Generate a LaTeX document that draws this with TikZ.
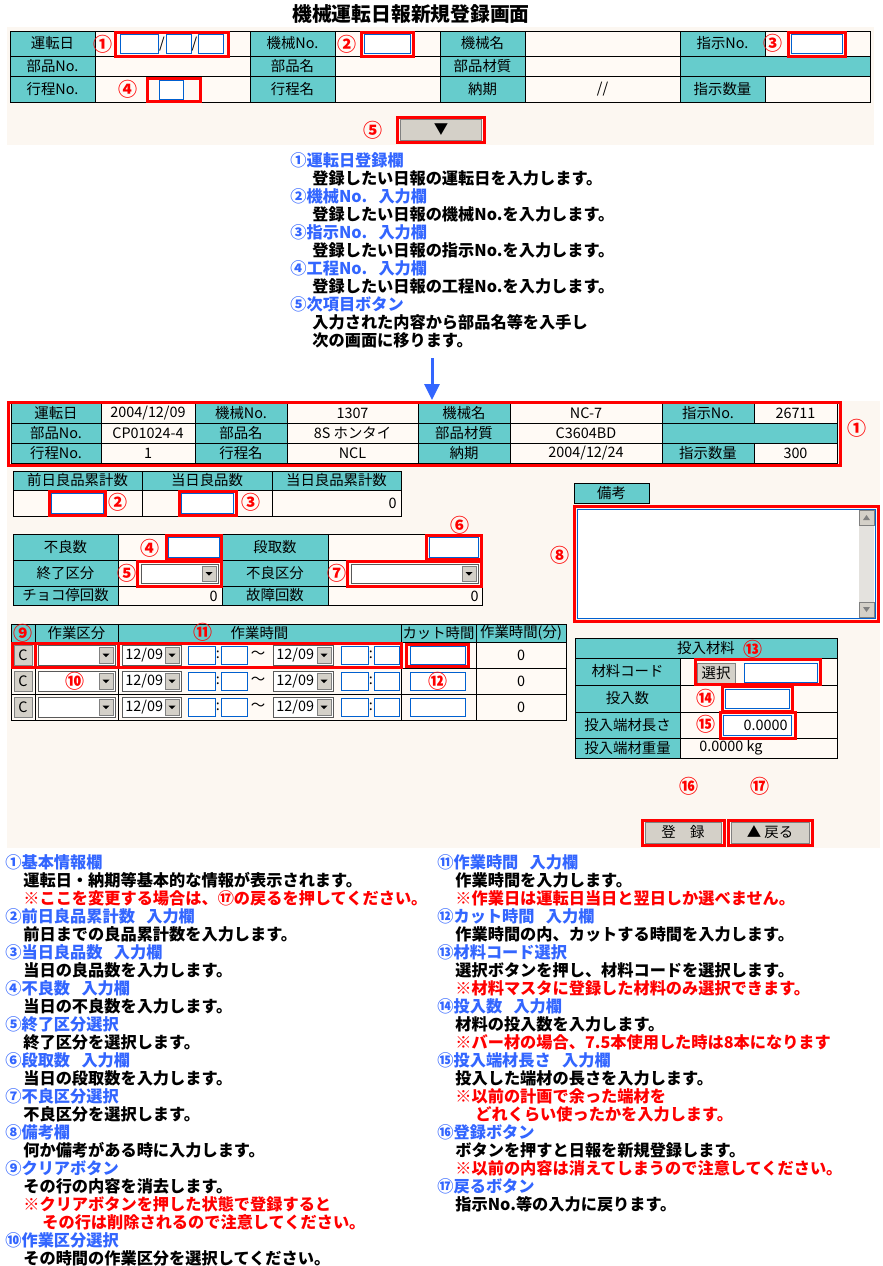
\documentclass[tikz,border=0pt]{standalone}
\usepackage{fontspec}
\setmainfont{Noto Sans CJK JP}
\usetikzlibrary{arrows.meta}
\definecolor{tealc}{HTML}{66CCCC}
\definecolor{cellw}{HTML}{FFFAF5}
\definecolor{panelc}{HTML}{FCF7F1}
\definecolor{headc}{HTML}{3366FF}
\definecolor{redc}{HTML}{FF0000}
\definecolor{inc}{HTML}{0060D0}
\definecolor{btnc}{HTML}{D4D0C8}
\definecolor{trackc}{HTML}{E4E2DE}
\tikzstyle{tcell}=[draw=black, fill=tealc, line width=0.5pt]
\tikzstyle{wcell}=[draw=black, fill=cellw, line width=0.5pt]
\tikzstyle{redbox}=[draw=redc, line width=1.5pt]
\tikzstyle{inbox}=[draw=inc, fill=white, line width=0.5pt]
\tikzstyle{btn}=[draw=gray, fill=btnc, line width=0.5pt]
\tikzstyle{dropbox}=[draw=gray!70!black, fill=white, line width=0.5pt]
\tikzstyle{ctxt}=[inner sep=0, font=\fontsize{7.2}{7}\selectfont]
\tikzstyle{num}=[inner sep=0, text=redc, font=\bfseries\fontsize{9.5}{9}\selectfont]
\tikzstyle{head}=[anchor=west, inner sep=0, text=headc, font=\bfseries\fontsize{8.1}{8}\selectfont]
\tikzstyle{body}=[anchor=west, inner sep=0, font=\bfseries\fontsize{8.1}{8}\selectfont]
\tikzstyle{redline}=[body, text=redc]
\newcommand{\gap}{\hspace{0.7em}}
\newcommand{\mkcell}[7]{%
  \draw[#1] (#3,#4) rectangle (#5,#6);
  \node[ctxt] (#2) at ({(#3+#5)/2},{(#4+#6)/2}) {#7};}
\newcommand{\mkdrop}[6]{%
  \draw[dropbox] (#2,#3) rectangle (#4,#5);
  \draw[btn] ({#4-16},{#3+2}) rectangle ({#4-2},{#5-2});
  \fill ({#4-12.5},{(#3+#5)/2-1.5}) -- ({#4-5.5},{(#3+#5)/2-1.5}) -- ({#4-9},{(#3+#5)/2+2}) -- cycle;
  \node[ctxt, anchor=west] (#1) at ({#2+3},{(#3+#5)/2}) {#6};}
\newcommand{\workrow}[2]{%
  \mkcell{wcell}{w#1a}{11}{#2}{35}{#2+26}{}
  \mkcell{wcell}{w#1b}{35}{#2}{118}{#2+26}{}
  \mkcell{wcell}{w#1t}{118}{#2}{401}{#2+26}{}
  \mkcell{wcell}{w#1k}{401}{#2}{476}{#2+26}{}
  \mkcell{wcell}{w#1m}{476}{#2}{566}{#2+26}{0}
  \draw[btn] (14,#2+3) rectangle (32,#2+23);
  \node[ctxt] (w#1c) at (23,#2+13) {C};
  \mkdrop{w#1d}{38}{#2+3}{115}{#2+23}{}
  \mkdrop{w#1s}{122}{#2+3}{181}{#2+23}{12/09}
  \draw[inbox] (188,#2+4) rectangle (215,#2+22);
  \node[ctxt] (w#1p) at (218,#2+13) {:};
  \draw[inbox] (221,#2+4) rectangle (247,#2+22);
  \node[ctxt] (w#1w) at (258,#2+13) {～};
  \mkdrop{w#1e}{273}{#2+3}{333}{#2+23}{12/09}
  \draw[inbox] (341,#2+4) rectangle (368,#2+22);
  \node[ctxt] (w#1q) at (371,#2+13) {:};
  \draw[inbox] (374,#2+4) rectangle (399,#2+22);
  \draw[inbox] (410,#2+4) rectangle (465,#2+22);}

\begin{document}
\begin{tikzpicture}[x=0.5pt, y=-0.5pt]
\useasboundingbox (0,0) rectangle (883,1266);
\fill[white] (0,0) rectangle (883,1266);
\node[inner sep=0, font=\bfseries\fontsize{9.9}{10}\selectfont] (title) at (411,14) {機械運転日報新規登録画面};
\fill[panelc] (7,27) rectangle (874,145);
\mkcell{tcell}{a11}{10}{31}{95}{56}{運転日}
\mkcell{wcell}{a12}{95}{31}{250}{56}{}
\mkcell{tcell}{a13}{250}{31}{335}{56}{機械No.}
\mkcell{wcell}{a14}{335}{31}{440}{56}{}
\mkcell{tcell}{a15}{440}{31}{525}{56}{機械名}
\mkcell{wcell}{a16}{525}{31}{680}{56}{}
\mkcell{tcell}{a17}{680}{31}{765}{56}{指示No.}
\mkcell{wcell}{a18}{765}{31}{870}{56}{}
\mkcell{tcell}{a21}{10}{56}{95}{76}{部品No.}
\mkcell{wcell}{a22}{95}{56}{250}{76}{}
\mkcell{tcell}{a23}{250}{56}{335}{76}{部品名}
\mkcell{wcell}{a24}{335}{56}{440}{76}{}
\mkcell{tcell}{a25}{440}{56}{525}{76}{部品材質}
\mkcell{wcell}{a26}{525}{56}{680}{76}{}
\mkcell{tcell}{a27}{680}{56}{870}{76}{}
\mkcell{tcell}{a31}{10}{76}{95}{102}{行程No.}
\mkcell{wcell}{a32}{95}{76}{250}{102}{}
\mkcell{tcell}{a33}{250}{76}{335}{102}{行程名}
\mkcell{wcell}{a34}{335}{76}{440}{102}{}
\mkcell{tcell}{a35}{440}{76}{525}{102}{納期}
\mkcell{wcell}{a36}{525}{76}{680}{102}{//}
\mkcell{tcell}{a37}{680}{76}{765}{102}{指示数量}
\mkcell{wcell}{a38}{765}{76}{870}{102}{}
\draw[redbox] (115,32) rectangle (228,56);
\draw[inbox] (120,34) rectangle (158,53);
\node[ctxt] (sl1) at (162,44) {/};
\draw[inbox] (166,34) rectangle (191,53);
\node[ctxt] (sl2) at (194.5,44) {/};
\draw[inbox] (198,34) rectangle (223,53);
\node[num] (n1) at (103,44) {①};
\draw[redbox] (361,32) rectangle (413,56);
\draw[inbox] (364,34) rectangle (410,53);
\node[num] (n2) at (347,44) {②};
\draw[redbox] (788,32) rectangle (845,56);
\draw[inbox] (791,34) rectangle (842,53);
\node[num] (n3) at (773,43) {③};
\draw[redbox] (147,78) rectangle (200,101);
\draw[inbox] (159,80) rectangle (183,99);
\node[num] (n4) at (128,89) {④};
\draw[redbox] (397,117) rectangle (484,142);
\draw[btn] (400,119) rectangle (481,140);
\node[ctxt] (nextbtn) at (441,129.5) {▼};
\node[num] (n5) at (373,130) {⑤};
\node[head] (d1) at (290,160) {①運転日登録欄};
\node[body] (d2) at (312,178) {登録したい日報の運転日を入力します。};
\node[head] (d3) at (290,196) {②機械No.\gap 入力欄};
\node[body] (d4) at (312,214) {登録したい日報の機械No.を入力します。};
\node[head] (d5) at (290,232) {③指示No.\gap 入力欄};
\node[body] (d6) at (312,250) {登録したい日報の指示No.を入力します。};
\node[head] (d7) at (290,268) {④工程No.\gap 入力欄};
\node[body] (d8) at (312,286) {登録したい日報の工程No.を入力します。};
\node[head] (d9) at (290,304) {⑤次項目ボタン};
\node[body] (d10) at (312,322) {入力された内容から部品名等を入手し};
\node[body] (d11) at (312,340) {次の画面に移ります。};
\coordinate (arrtop) at (432,358);
\coordinate (arrbot) at (432,400);
\draw[headc, line width=1.5pt, -{Triangle[length=8pt,width=7.5pt]}] (arrtop) -- (arrbot);
\fill[panelc] (7,401) rectangle (880,848);
\mkcell{tcell}{b11}{11}{403}{101}{423}{運転日}
\mkcell{wcell}{b12}{101}{403}{195}{423}{2004/12/09}
\mkcell{tcell}{b13}{195}{403}{287}{423}{機械No.}
\mkcell{wcell}{b14}{287}{403}{418}{423}{1307}
\mkcell{tcell}{b15}{418}{403}{510}{423}{機械名}
\mkcell{wcell}{b16}{510}{403}{662}{423}{NC-7}
\mkcell{tcell}{b17}{662}{403}{754}{423}{指示No.}
\mkcell{wcell}{b18}{754}{403}{837}{423}{26711}
\mkcell{tcell}{b21}{11}{423}{101}{443}{部品No.}
\mkcell{wcell}{b22}{101}{423}{195}{443}{CP01024-4}
\mkcell{tcell}{b23}{195}{423}{287}{443}{部品名}
\mkcell{wcell}{b24}{287}{423}{418}{443}{8S ホンタイ}
\mkcell{tcell}{b25}{418}{423}{510}{443}{部品材質}
\mkcell{wcell}{b26}{510}{423}{662}{443}{C3604BD}
\mkcell{tcell}{b27}{662}{423}{837}{443}{}
\mkcell{tcell}{b31}{11}{443}{101}{463}{行程No.}
\mkcell{wcell}{b32}{101}{443}{195}{463}{1}
\mkcell{tcell}{b33}{195}{443}{287}{463}{行程名}
\mkcell{wcell}{b34}{287}{443}{418}{463}{NCL}
\mkcell{tcell}{b35}{418}{443}{510}{463}{納期}
\mkcell{wcell}{b36}{510}{443}{662}{463}{2004/12/24}
\mkcell{tcell}{b37}{662}{443}{754}{463}{指示数量}
\mkcell{wcell}{b38}{754}{443}{837}{463}{300}
\draw[redbox] (8.5,402.5) rectangle (840,465.5);
\node[num] (m1) at (857,428) {①};
\mkcell{tcell}{c11}{13}{471}{142}{490}{前日良品累計数}
\mkcell{tcell}{c12}{142}{471}{272}{490}{当日良品数}
\mkcell{tcell}{c13}{272}{471}{401}{490}{当日良品累計数}
\mkcell{wcell}{c21}{13}{490}{142}{516}{}
\mkcell{wcell}{c22}{142}{490}{272}{516}{}
\mkcell{wcell}{c23}{272}{490}{401}{516}{}
\node[ctxt, anchor=east] (c23v) at (397,503) {0};
\draw[redbox] (49,491) rectangle (105,515);
\draw[inbox] (51,493) rectangle (103,513);
\node[num] (m2) at (118,502) {②};
\draw[redbox] (179,491) rectangle (236,515);
\draw[inbox] (181,493) rectangle (233,513);
\node[num] (m3) at (251,502) {③};
\mkcell{tcell}{rem}{574}{483}{649}{503}{備考}
\draw[redbox] (574,506) rectangle (878,621);
\draw[inbox] (577,509) rectangle (875,618);
\fill[trackc] (859,510) rectangle (874,617);
\draw[btn] (859,510) rectangle (874,525);
\fill[gray] (863,520) -- (870,520) -- (866.5,515) -- cycle;
\draw[btn] (859,602) rectangle (874,617);
\fill[gray] (863,607) -- (870,607) -- (866.5,612) -- cycle;
\node[num] (m8) at (560,555) {⑧};
\mkcell{tcell}{g11}{13}{534}{118}{560}{不良数}
\mkcell{wcell}{g12}{118}{534}{222}{560}{}
\mkcell{tcell}{g13}{222}{534}{328}{560}{段取数}
\mkcell{wcell}{g14}{328}{534}{482}{560}{}
\mkcell{tcell}{g21}{13}{560}{118}{586}{終了区分}
\mkcell{wcell}{g22}{118}{560}{222}{586}{}
\mkcell{tcell}{g23}{222}{560}{328}{586}{不良区分}
\mkcell{wcell}{g24}{328}{560}{482}{586}{}
\mkcell{tcell}{g31}{13}{586}{118}{605}{チョコ停回数}
\mkcell{wcell}{g32}{118}{586}{222}{605}{}
\mkcell{tcell}{g33}{222}{586}{328}{605}{故障回数}
\mkcell{wcell}{g34}{328}{586}{482}{605}{}
\node[ctxt, anchor=east] (g32v) at (218,596) {0};
\node[ctxt, anchor=east] (g34v) at (479,596) {0};
\draw[redbox] (166,535) rectangle (221,559);
\draw[inbox] (168,537) rectangle (219,557);
\node[num] (m4) at (150,548) {④};
\draw[redbox] (426,535) rectangle (481,559);
\draw[inbox] (429,537) rectangle (478,557);
\node[num] (m6) at (460,525) {⑥};
\draw[redbox] (137,561) rectangle (221,586);
\mkdrop{g22d}{141}{564}{218}{583}{}
\node[num] (m5) at (127,573) {⑤};
\draw[redbox] (347,561) rectangle (481,586);
\mkdrop{g24d}{351}{564}{478}{583}{}
\node[num] (m7) at (337,573) {⑦};
\mkcell{tcell}{e1}{11}{624}{35}{642}{}
\mkcell{tcell}{e2}{35}{624}{118}{642}{作業区分}
\mkcell{tcell}{e3}{118}{624}{401}{642}{作業時間}
\mkcell{tcell}{e4}{401}{624}{476}{642}{カット時間}
\mkcell{tcell}{e5}{476}{624}{566}{642}{作業時間(分)}
\node[num] (m9) at (23,633) {⑨};
\node[num] (m11) at (203,632) {⑪};
\workrow{1}{642}
\workrow{2}{668}
\workrow{3}{694}
\draw[redbox] (12,643) rectangle (35,667);
\draw[redbox] (35,643) rectangle (118,667);
\draw[redbox] (118,643) rectangle (401,667);
\draw[redbox] (406,644) rectangle (468,666);
\node[num] (m10) at (75,681) {⑩};
\node[num] (m12) at (438,681) {⑫};
\mkcell{tcell}{f0}{575}{638}{837}{658}{投入材料}
\mkcell{tcell}{f11}{575}{658}{680}{685}{材料コード}
\mkcell{wcell}{f12}{680}{658}{837}{685}{}
\mkcell{tcell}{f21}{575}{685}{680}{712}{投入数}
\mkcell{wcell}{f22}{680}{685}{837}{712}{}
\mkcell{tcell}{f31}{575}{712}{680}{738}{投入端材長さ}
\mkcell{wcell}{f32}{680}{712}{837}{738}{}
\mkcell{tcell}{f41}{575}{738}{680}{758}{投入端材重量}
\mkcell{wcell}{f42}{680}{738}{837}{758}{}
\node[ctxt, anchor=west] (f42v) at (699,748) {0.0000 kg};
\node[num] (m13) at (753,649) {⑬};
\draw[btn] (697,663) rectangle (735,683);
\node[ctxt] (selbtn) at (716,673) {選択};
\draw[inbox] (744,663) rectangle (817,682);
\draw[redbox] (695,659) rectangle (820,684);
\draw[redbox] (722,686) rectangle (792,711);
\draw[inbox] (725,689) rectangle (789,708);
\node[num] (m14) at (706,698) {⑭};
\draw[redbox] (720,712) rectangle (795,738);
\draw[inbox] (723,715) rectangle (791,735);
\node[ctxt, anchor=east] (f32v) at (788,725) {0.0000};
\node[num] (m15) at (706,724) {⑮};
\node[num] (m16) at (689,786) {⑯};
\node[num] (m17) at (760,786) {⑰};
\draw[redbox] (642,820) rectangle (724,845);
\draw[btn] (645,822) rectangle (721,843);
\node[ctxt] (regbtn) at (683,832.5) {登　録};
\draw[redbox] (728,820) rectangle (812,845);
\draw[btn] (731,822) rectangle (809,843);
\node[ctxt] (backbtn) at (770,832.5) {▲ 戻る};
\node[head] (l1) at (5,862) {①基本情報欄};
\node[body] (l2) at (23,880) {運転日・納期等基本的な情報が表示されます。};
\node[redline] (l3) at (23,898) {※ここを変更する場合は、⑰の戻るを押してください。};
\node[head] (l4) at (5,916) {②前日良品累計数\gap 入力欄};
\node[body] (l5) at (23,934) {前日までの良品累計数を入力します。};
\node[head] (l6) at (5,952) {③当日良品数\gap 入力欄};
\node[body] (l7) at (23,970) {当日の良品数を入力します。};
\node[head] (l8) at (5,988) {④不良数\gap 入力欄};
\node[body] (l9) at (23,1006) {当日の不良数を入力します。};
\node[head] (l10) at (5,1024) {⑤終了区分選択};
\node[body] (l11) at (23,1042) {終了区分を選択します。};
\node[head] (l12) at (5,1060) {⑥段取数\gap 入力欄};
\node[body] (l13) at (23,1078) {当日の段取数を入力します。};
\node[head] (l14) at (5,1096) {⑦不良区分選択};
\node[body] (l15) at (23,1114) {不良区分を選択します。};
\node[head] (l16) at (5,1132) {⑧備考欄};
\node[body] (l17) at (23,1150) {何か備考がある時に入力します。};
\node[head] (l18) at (5,1168) {⑨クリアボタン};
\node[body] (l19) at (23,1186) {その行の内容を消去します。};
\node[redline] (l20) at (23,1204) {※クリアボタンを押した状態で登録すると};
\node[redline] (l21) at (42,1222) {その行は削除されるので注意してください。};
\node[head] (l22) at (5,1240) {⑩作業区分選択};
\node[body] (l23) at (23,1258) {その時間の作業区分を選択してください。};
\node[head] (r1) at (437,862) {⑪作業時間\gap 入力欄};
\node[body] (r2) at (455,880) {作業時間を入力します。};
\node[redline] (r3) at (455,898) {※作業日は運転日当日と翌日しか選べません。};
\node[head] (r4) at (437,916) {⑫カット時間\gap 入力欄};
\node[body] (r5) at (455,934) {作業時間の内、カットする時間を入力します。};
\node[head] (r6) at (437,952) {⑬材料コード選択};
\node[body] (r7) at (455,970) {選択ボタンを押し、材料コードを選択します。};
\node[redline] (r8) at (455,988) {※材料マスタに登録した材料のみ選択できます。};
\node[head] (r9) at (437,1006) {⑭投入数\gap 入力欄};
\node[body] (r10) at (455,1024) {材料の投入数を入力します。};
\node[redline] (r11) at (455,1042) {※バー材の場合、7.5本使用した時は8本になります};
\node[head] (r12) at (437,1060) {⑮投入端材長さ\gap 入力欄};
\node[body] (r13) at (455,1078) {投入した端材の長さを入力します。};
\node[redline] (r14) at (455,1096) {※以前の計画で余った端材を};
\node[redline] (r15) at (475,1114) {どれくらい使ったかを入力します。};
\node[head] (r16) at (437,1132) {⑯登録ボタン};
\node[body] (r17) at (455,1150) {ボタンを押すと日報を新規登録します。};
\node[redline] (r18) at (455,1168) {※以前の内容は消えてしまうので注意してください。};
\node[head] (r19) at (437,1186) {⑰戻るボタン};
\node[body] (r20) at (455,1204) {指示No.等の入力に戻ります。};
\end{tikzpicture}
\end{document}
